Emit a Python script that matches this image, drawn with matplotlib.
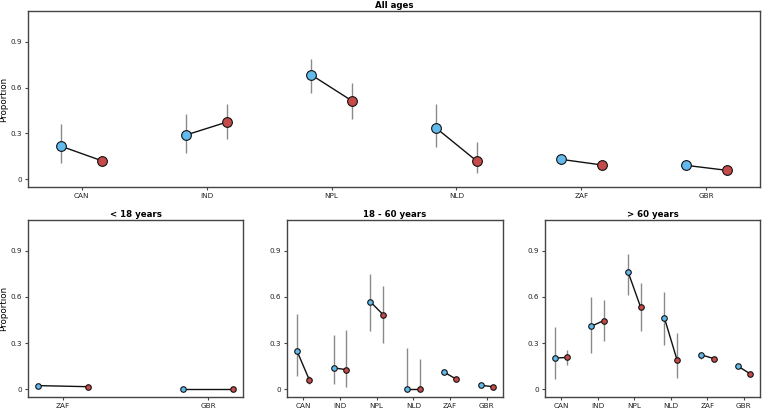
import matplotlib
matplotlib.use("Agg")
import matplotlib.pyplot as plt
import numpy as np

countries = ["CAN", "IND", "NPL", "NLD", "ZAF", "GBR"]

all_blue = [0.216, 0.290, 0.684, 0.337, 0.131, 0.092]
all_blue_lo = [0.107, 0.174, 0.564, 0.209, 0.120, 0.085]
all_blue_hi = [0.362, 0.427, 0.787, 0.492, 0.142, 0.100]
all_red = [0.120, 0.375, 0.512, 0.118, 0.094, 0.059]
all_red_lo = [0.110, 0.266, 0.392, 0.043, 0.087, 0.053]
all_red_hi = [0.131, 0.492, 0.630, 0.242, 0.101, 0.066]

young_countries = ["ZAF", "GBR"]
young_blue = [0.024, 0.004]
young_blue_lo = [0.018, 0.001]
young_blue_hi = [0.030, 0.008]
young_red = [0.017, 0.004]
young_red_lo = [0.012, 0.001]
young_red_hi = [0.022, 0.008]

mid_blue = [0.252, 0.139, 0.569, 0.0, 0.113, 0.026]
mid_blue_lo = [0.089, 0.033, 0.377, 0.0, 0.100, 0.018]
mid_blue_hi = [0.492, 0.353, 0.748, 0.270, 0.126, 0.035]
mid_red = [0.059, 0.128, 0.486, 0.0, 0.065, 0.017]
mid_red_lo = [0.035, 0.017, 0.303, 0.0, 0.056, 0.012]
mid_red_hi = [0.085, 0.388, 0.674, 0.198, 0.075, 0.023]

old_blue = [0.203, 0.410, 0.765, 0.462, 0.224, 0.152]
old_blue_lo = [0.069, 0.239, 0.615, 0.290, 0.200, 0.140]
old_blue_hi = [0.405, 0.597, 0.878, 0.634, 0.245, 0.165]
old_red = [0.207, 0.447, 0.536, 0.190, 0.200, 0.100]
old_red_lo = [0.161, 0.316, 0.381, 0.074, 0.188, 0.090]
old_red_hi = [0.255, 0.579, 0.689, 0.368, 0.212, 0.110]

yticks = [0, 0.3, 0.6, 0.9]
ytick_labels = ["0", "0.3", "0.6", "0.9"]

BLUE = "#62B9EC"
RED = "#C54A4A"
ERR = "#8a8a8a"
SPINE = "#444444"

fig = plt.figure(figsize=(7.62, 4.08), dpi=100)
W, H = 762, 408

def add_ax(l, t, r, b):
    return fig.add_axes([l / W, 1 - b / H, (r - l) / W, (b - t) / H])

ax_top = add_ax(28, 11, 760, 187)
ax1 = add_ax(28, 220, 243, 397)
ax2 = add_ax(287, 220, 503, 397)
ax3 = add_ax(545, 220, 760, 397)


def draw(ax, cats, b, blo, bhi, r, rlo, rhi, off, ms, title, ylabel=False, width_px=None):
    x = np.arange(len(cats))
    xb = x - off
    xr = x + off
    b = np.array(b); r = np.array(r)
    ax.vlines(xb, blo, bhi, color=ERR, lw=1.0, zorder=1)
    ax.vlines(xr, rlo, rhi, color=ERR, lw=1.0, zorder=1)
    for i in range(len(cats)):
        ax.plot([xb[i], xr[i]], [b[i], r[i]], color="#111111", lw=1.0, zorder=2)
    ax.plot(xb, b, "o", ms=ms, mfc=BLUE, mec="#111111", mew=0.8, ls="none", zorder=3)
    ax.plot(xr, r, "o", ms=ms, mfc=RED, mec="#111111", mew=0.8, ls="none", zorder=3)
    ax.set_xticks(x)
    ax.set_xticklabels(cats, fontsize=5.2, color="#222222")
    ax.set_yticks(yticks)
    ax.set_yticklabels(ytick_labels, fontsize=5.2, color="#222222")
    ax.set_ylim(-0.05, 1.1)
    lo = xb.min(); hi = xr.max()
    m = 0.05 * (hi - lo)
    ax.set_xlim(lo - m, hi + m)
    ax.tick_params(length=2.5, width=0.8, color=SPINE, pad=2)
    for s in ax.spines.values():
        s.set_color(SPINE)
        s.set_linewidth(1.0)
    ax.set_title(title, fontsize=6.2, fontweight="bold", pad=2.5)
    if ylabel:
        ax.set_ylabel("Proportion", fontsize=6.3)
        ax.yaxis.set_label_coords((8.5 - 28) / width_px, 0.5)


draw(ax_top, countries, all_blue, all_blue_lo, all_blue_hi,
     all_red, all_red_lo, all_red_hi, 0.165, 7.0, "All ages", ylabel=True, width_px=732)
draw(ax1, young_countries, young_blue, young_blue_lo, young_blue_hi,
     young_red, young_red_lo, young_red_hi, 0.172, 4.0, "< 18 years", ylabel=True, width_px=215)
draw(ax2, countries, mid_blue, mid_blue_lo, mid_blue_hi,
     mid_red, mid_red_lo, mid_red_hi, 0.172, 4.0, "18 - 60 years")
draw(ax3, countries, old_blue, old_blue_lo, old_blue_hi,
     old_red, old_red_lo, old_red_hi, 0.172, 4.0, "> 60 years")

fig.savefig("out.png", dpi=100)
